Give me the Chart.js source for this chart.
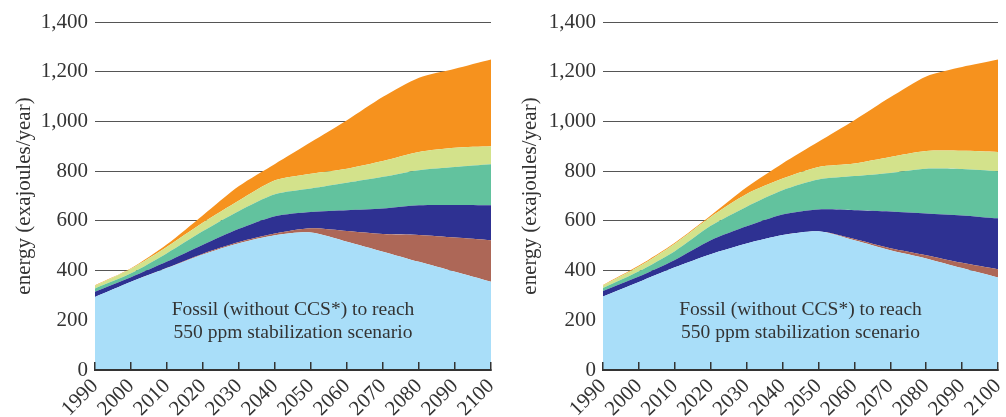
<!DOCTYPE html>
<html>
<head>
<meta charset="utf-8">
<script src="https://cdn.jsdelivr.net/npm/chart.js@4"></script>
<style>
  html, body { margin: 0; padding: 0; background: #fff; }
  .panel { position: absolute; top: 0; width: 503px; height: 417px; }
  #leftBox { left: 0; }
  #rightBox { left: 503px; }
</style>
</head>
<body>
<div class="panel" id="leftBox"><canvas id="leftChart"></canvas></div>
<div class="panel" id="rightBox"><canvas id="rightChart"></canvas></div>
<script>
const years = ['1990','2000','2010','2020','2030','2040','2050','2060','2070','2080','2090','2100'];
const yTicks = [0, 200, 400, 600, 800, 1000, 1200, 1400];

const layerNames = ['Fossil (without CCS*)', 'Layer 2', 'Layer 3', 'Layer 4', 'Layer 5', 'Layer 6'];
const layerColors = ['#a9def9', '#ad6757', '#2e3192', '#62c29e', '#d3e28b', '#f6921e'];

// left panel, thickness of each band
const leftFossil = [294, 355, 410, 465, 510, 542, 553, 516, 476, 435, 395, 355];
const leftBrown  = [0, 0, 1, 3, 5, 7, 17, 43, 71, 108, 138, 167];
const leftNavy   = [21, 18, 25, 36, 53, 70, 66, 84, 103, 120, 131, 141];
const leftTeal   = [13, 16, 34, 55, 72, 88, 94, 110, 127, 141, 153, 165];
const leftLight  = [11, 18, 26, 34, 42, 56, 60, 57, 64, 73, 77, 72];
const leftOrange = [2, 2, 10, 30, 58, 66, 127, 195, 258, 299, 318, 349];

// right panel, thickness of each band
const rightFossil = [296, 354, 413, 466, 509, 543, 558, 522, 482, 449, 410, 372];
const rightBrown  = [0, 0, 0, 0, 0, 0, 0, 5, 8, 13, 21, 33];
const rightNavy   = [22, 22, 30, 56, 69, 83, 88, 116, 148, 168, 191, 205];
const rightTeal   = [12, 21, 35, 58, 79, 97, 120, 137, 155, 180, 187, 190];
const rightLight  = [10, 19, 30, 36, 51, 47, 51, 51, 64, 71, 73, 77];
const rightOrange = [2, 4, 4, 6, 27, 61, 101, 174, 240, 300, 337, 372];

const noteLines = ['Fossil (without CCS*) to reach', '550 ppm stabilization scenario'];
const noteIndex = 5.5;
const noteLevels = [241, 149];

const serif = 'Liberation Serif';
const inkColor = '#333';

const notePlugin = {
    id: 'note',
    afterDatasetsDraw(chart) {
        const { ctx, scales: { x, y } } = chart;
        ctx.save();
        ctx.font = "19.5px 'Liberation Serif'";
        ctx.fillStyle = inkColor;
        ctx.textAlign = 'center';
        ctx.textBaseline = 'middle';
        const cx = x.getPixelForValue(noteIndex);
        noteLines.forEach((t, i) => ctx.fillText(t, cx, y.getPixelForValue(noteLevels[i])));
        ctx.restore();
    }
};

function buildChart(id, layers, axisWidth, titlePad, padRight) {
    return new Chart(document.getElementById(id), {
        type: 'line',
        data: {
            labels: years,
            datasets: layers.map((values, i) => ({
                label: layerNames[i],
                data: values,
                backgroundColor: layerColors[i],
                borderWidth: 0,
                pointRadius: 0,
                fill: i === 0 ? 'origin' : '-1',
                tension: 0.25
            }))
        },
        options: {
            responsive: true,
            maintainAspectRatio: false,
            animation: false,
            layout: { padding: { left: 0, right: padRight, top: 22, bottom: 0 } },
            plugins: { legend: { display: false }, tooltip: { enabled: false } },
            scales: {
                x: {
                    grid: { drawOnChartArea: false, tickLength: -8, color: inkColor, lineWidth: 1.5, z: 1 },
                    border: { color: inkColor, width: 2, z: 1 },
                    ticks: {
                        autoSkip: false, minRotation: 45, maxRotation: 45, padding: 12,
                        color: inkColor, font: { family: serif, size: 21 }
                    },
                    afterFit: s => { s.height = 47; s.paddingLeft = 0; s.paddingRight = 0; }
                },
                y: {
                    stacked: true,
                    min: 0,
                    max: 1400,
                    afterBuildTicks: s => { s.ticks = yTicks.map(v => ({ value: v })); },
                    grid: { color: '#555', lineWidth: 1, drawTicks: false },
                    border: { display: false },
                    ticks: {
                        padding: 7, color: inkColor, font: { family: serif, size: 21 },
                        callback: v => v.toLocaleString('en-US')
                    },
                    title: {
                        display: true, text: 'energy (exajoules/year)', color: inkColor,
                        font: { family: serif, size: 21 }, padding: { top: titlePad, bottom: 0 }
                    },
                    afterFit: s => { s.width = axisWidth; s.paddingTop = 0; s.paddingBottom = 0; }
                }
            }
        },
        plugins: [notePlugin]
    });
}

window.onload = () => {
    buildChart('leftChart', [leftFossil, leftBrown, leftNavy, leftTeal, leftLight, leftOrange], 95, 12, 12);
    buildChart('rightChart', [rightFossil, rightBrown, rightNavy, rightTeal, rightLight, rightOrange], 100, 15, 8);
};
</script>
</body>
</html>
